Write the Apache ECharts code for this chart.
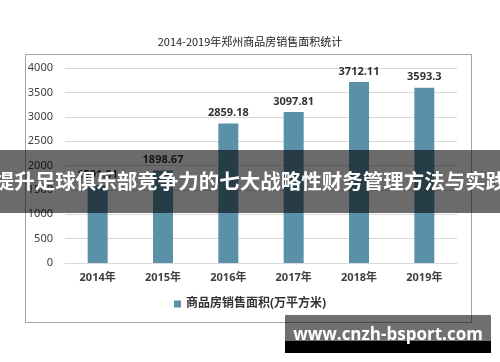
<!DOCTYPE html>
<html><head><meta charset="utf-8">
<script src="https://cdn.jsdelivr.net/npm/echarts@6/dist/echarts.min.js"></script>
<style>html,body{margin:0;padding:0;background:#fff}#c{width:500px;height:362px}</style>
</head><body><div id="c"></div>
<script>
var categories = ['2014年','2015年','2016年','2017年','2018年','2019年'];
var values = [1591.91, 1898.67, 2859.18, 3097.81, 3712.11, 3593.3];
var seriesName = '商品房销售面积(万平方米)';
var titleText = '2014-2019年郑州商品房销售面积统计';
var bannerText = '提升足球俱乐部竞争力的七大战略性财务管理方法与实践';
var watermarkText = 'www.cnzh-bsport.com';
var yTicks = [0, 500, 1000, 1500, 2000, 2500, 3000, 3500, 4000];

var font = '"Noto Sans", "Noto Sans CJK SC", sans-serif';
var chart = echarts.init(document.getElementById('c'));
chart.setOption({
  animation: false,
  title: { text: titleText, left: 'center', top: 31, textStyle: { fontSize: 11, fontWeight: 'normal', color: '#222', fontFamily: '"Noto Sans CJK SC", sans-serif' } },
  grid: { left: 65, right: 43, top: 68, bottom: 99, containLabel: false },
  legend: { bottom: 47, left: 'center', itemWidth: 7, itemHeight: 7, icon: 'rect',
    textStyle: { fontSize: 12, color: '#333', fontFamily: font, fontWeight: 'bold' }, data: [seriesName] },
  xAxis: { type: 'category', data: categories,
    axisLine: { lineStyle: { color: '#d9d9d9' } }, axisTick: { show: false },
    axisLabel: { fontSize: 11, color: '#404040', fontFamily: font, fontWeight: 'bold', margin: 9 } },
  yAxis: { type: 'value', min: yTicks[0], max: yTicks[yTicks.length-1], interval: 500,
    axisLine: { show: false }, axisTick: { show: false },
    splitLine: { lineStyle: { color: '#d9d9d9' } },
    axisLabel: { fontSize: 11, color: '#404040', fontFamily: font, margin: 12, formatter: function (v) { return String(v); } } },
  series: [{ name: seriesName, type: 'bar', data: values, barWidth: 20,
    itemStyle: { color: '#5b90a9' },
    label: { show: true, position: 'top', distance: 5, fontSize: 11, color: '#333', fontFamily: font, fontWeight: 'bold' } }],
  graphic: [
    { type: 'rect', shape: { x: 25.5, y: 54.5, width: 446, height: 268 }, style: { fill: 'none', stroke: '#a6a6a6', lineWidth: 1 }, z: 1 },
    { type: 'rect', shape: { x: 0, y: 150, width: 500, height: 63 }, style: { fill: 'rgba(0,0,0,0.58)' }, z: 100 },
    { type: 'text', x: 250, y: 181, style: { text: bannerText, fill: '#fff', fontSize: 20.5, fontWeight: 'bold', fontFamily: '"Noto Sans CJK SC", sans-serif', align: 'center', verticalAlign: 'middle' }, z: 101 },
    { type: 'rect', shape: { x: 285, y: 315, width: 206, height: 38 }, style: { fill: 'rgba(0,0,0,0.56)' }, z: 100 },
    { type: 'rect', shape: { x: 285, y: 341, width: 206, height: 12 }, style: { fill: '#000' }, z: 100 },
    { type: 'text', x: 388, y: 335, style: { text: watermarkText, fill: '#fff', fontSize: 17, fontWeight: 'bold', fontFamily: '"Open Sans", "Noto Sans", sans-serif', align: 'center', verticalAlign: 'middle' }, z: 101 }
  ]
});
</script></body></html>
